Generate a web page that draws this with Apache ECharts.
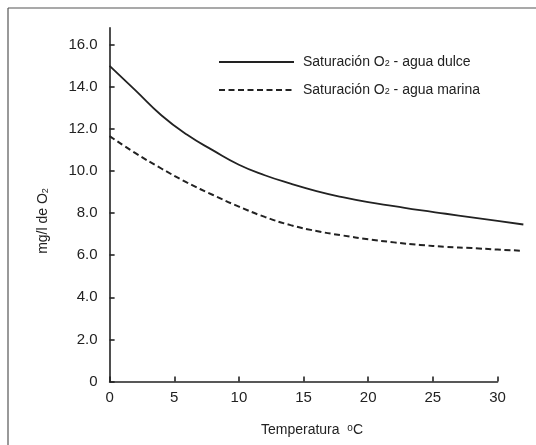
<!DOCTYPE html>
<html>
<head>
<meta charset="utf-8">
<script src="https://cdn.jsdelivr.net/npm/echarts@6/dist/echarts.min.js"></script>
<style>
    html, body { margin: 0; padding: 0; background: #fff; }
    #chart { width: 536px; height: 445px; }
</style>
</head>
<body>
<div id="chart"></div>
<script>
// temperatura (ºC) y saturación de O2 (mg/l)
const temps = [0, 2, 4, 6, 8, 10, 12, 14, 16, 18, 20, 22, 24, 26, 28, 30, 32]
const aguaDulce = [15.0, 13.83, 12.65, 11.72, 10.98, 10.3, 9.8, 9.4, 9.05, 8.76, 8.52, 8.33, 8.14, 7.97, 7.8, 7.63, 7.46]
const aguaMarina = [11.66, 10.85, 10.12, 9.45, 8.86, 8.31, 7.82, 7.43, 7.15, 6.94, 6.76, 6.61, 6.49, 6.4, 6.34, 6.27, 6.21]
const yTicks = [0, 2, 4, 6, 8, 10, 12, 14, 16]

const ink = '#222'
const font = 'Liberation Sans, Arial, sans-serif'

const chart = echarts.init(document.getElementById('chart'))

const pairs = (ys) => temps.map((t, i) => [t, ys[i]])

// grid 0 lleva los ejes (0..30), grid 1 las curvas (0..32, misma escala)
const left = 109.6
const unit = 12.93

chart.setOption({
    animation: false,
    backgroundColor: '#fff',
    grid: [
        { left: left, width: unit * 30, top: 27.9, bottom: 63.5 },
        { left: left, width: unit * 32, top: 27.9, bottom: 63.5 },
    ],
    legend: {
        orient: 'vertical',
        left: 213,
        top: 50,
        itemWidth: 75,
        itemHeight: 14,
        itemGap: 14,
        itemStyle: { opacity: 0 },
        textStyle: {
            color: ink,
            fontFamily: font,
            fontSize: 14,
            padding: [0, 0, 0, 4],
            rich: {
                s: { fontSize: 9, fontFamily: font, color: ink, verticalAlign: 'bottom', padding: [0, 0, 1, 0] },
            },
        },
        formatter: (name) => name.replace('O2', 'O{s|2}'),
        data: ['Saturación O2 - agua dulce', 'Saturación O2 - agua marina'],
    },
    xAxis: [
        {
            type: 'value',
            gridIndex: 0,
            min: 0,
            max: 30,
            interval: 5,
            splitLine: { show: false },
            axisLine: { lineStyle: { color: ink, width: 1.6 } },
            axisTick: { inside: true, length: 5, lineStyle: { color: ink, width: 1.6 } },
            axisLabel: { color: ink, fontFamily: font, fontSize: 15, margin: 9 },
        },
        { type: 'value', gridIndex: 1, min: 0, max: 32, show: false },
    ],
    yAxis: [
        {
            type: 'value',
            gridIndex: 0,
            min: 0,
            max: 16.8,
            splitLine: { show: false },
            axisLine: { show: true, lineStyle: { color: ink, width: 1.6 } },
            axisTick: { show: true, inside: true, length: 5, customValues: yTicks, lineStyle: { color: ink, width: 1.6 } },
            axisLabel: {
                customValues: yTicks,
                color: ink,
                fontFamily: font,
                fontSize: 15,
                margin: 12,
                formatter: (v) => (v === 0 ? '0' : v.toFixed(1)),
            },
        },
        { type: 'value', gridIndex: 1, min: 0, max: 16.8, show: false },
    ],
    series: [
        {
            name: 'Saturación O2 - agua dulce',
            type: 'line',
            xAxisIndex: 1,
            yAxisIndex: 1,
            smooth: true,
            symbol: 'none',
            data: pairs(aguaDulce),
            itemStyle: { color: ink },
            lineStyle: { color: ink, width: 1.8 },
        },
        {
            name: 'Saturación O2 - agua marina',
            type: 'line',
            xAxisIndex: 1,
            yAxisIndex: 1,
            smooth: true,
            symbol: 'none',
            data: pairs(aguaMarina),
            itemStyle: { color: ink },
            lineStyle: { color: ink, width: 2, type: [6, 3.5] },
        },
    ],
    graphic: [
        // marco
        { type: 'line', shape: { x1: 8, y1: 8, x2: 536, y2: 8 }, style: { stroke: '#555', lineWidth: 1.2 } },
        { type: 'line', shape: { x1: 8, y1: 8, x2: 8, y2: 445 }, style: { stroke: '#555', lineWidth: 1.2 } },
        {
            type: 'text',
            x: 43,
            y: 221,
            rotation: Math.PI / 2,
            style: {
                text: '{a|mg/l de O}{s|2}',
                align: 'center',
                verticalAlign: 'middle',
                rich: {
                    a: { fontSize: 14, fontFamily: font, fill: ink },
                    s: { fontSize: 9, fontFamily: font, fill: ink, verticalAlign: 'bottom' },
                },
            },
        },
        {
            type: 'text',
            x: 312,
            y: 430,
            style: {
                text: '{a|Temperatura  }{s|o}{a|C}',
                align: 'center',
                verticalAlign: 'middle',
                rich: {
                    a: { fontSize: 14, fontFamily: font, fill: ink },
                    s: { fontSize: 10, fontFamily: font, fill: ink, verticalAlign: 'top' },
                },
            },
        },
    ],
})
</script>
</body>
</html>
